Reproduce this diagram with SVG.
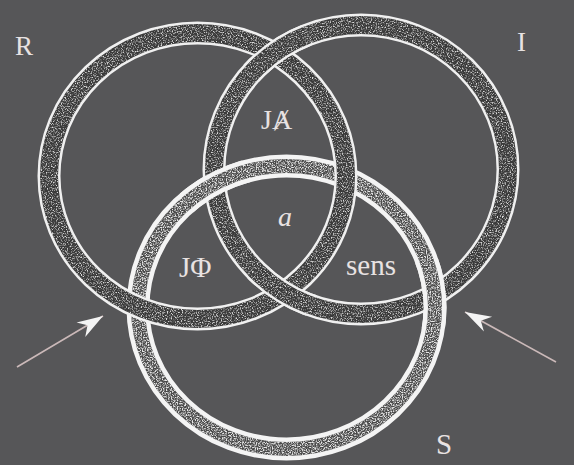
<svg xmlns="http://www.w3.org/2000/svg" xmlns:xlink="http://www.w3.org/1999/xlink" width="574" height="465" viewBox="0 0 574 465">
  <style>
    .edge { fill: none; stroke: #f0f0f0; stroke-width: 23; }
    .core { fill: none; stroke: #3a3a3a; stroke-width: 18; }
    .edgeS { fill: none; stroke: #f4f4f4; stroke-width: 23; }
    .coreS { fill: none; stroke: #4a4a4a; stroke-width: 14; }
    .lbl { font-family: "Liberation Serif", "DejaVu Serif", serif; fill: #e8e2e2; }
    .arrow { stroke: #cbb9b9; stroke-width: 1.6; fill: none; }
  </style>
  <defs>
    <filter id="speck" x="-5%" y="-5%" width="110%" height="110%" color-interpolation-filters="sRGB">
      <feTurbulence type="fractalNoise" baseFrequency="0.8" numOctaves="2" seed="7" result="n"/>
      <feColorMatrix in="n" type="matrix" values="0 0 0 0 0.85  0 0 0 0 0.85  0 0 0 0 0.85  3.5 0 0 0 -1.65" result="w"/>
      <feComposite in="w" in2="SourceGraphic" operator="in" result="wi"/>
      <feMerge><feMergeNode in="SourceGraphic"/><feMergeNode in="wi"/></feMerge>
    </filter>
    <filter id="speckS" x="-5%" y="-5%" width="110%" height="110%" color-interpolation-filters="sRGB">
      <feTurbulence type="fractalNoise" baseFrequency="0.8" numOctaves="2" seed="11" result="n"/>
      <feColorMatrix in="n" type="matrix" values="0 0 0 0 0.9  0 0 0 0 0.9  0 0 0 0 0.9  3.5 0 0 0 -1.45" result="w"/>
      <feComposite in="w" in2="SourceGraphic" operator="in" result="wi"/>
      <feMerge><feMergeNode in="SourceGraphic"/><feMergeNode in="wi"/></feMerge>
    </filter>
    <ellipse id="eR" cx="197.5" cy="176" rx="148.5" ry="143"/>
    <ellipse id="eI" cx="361" cy="169.5" rx="147" ry="144.5"/>
    <ellipse id="eS" cx="286.5" cy="307.5" rx="148.5" ry="141.5"/>
    <g id="shapeR"><use xlink:href="#eR" class="edge"/><use xlink:href="#eR" class="core" filter="url(#speck)"/></g>
    <g id="shapeI"><use xlink:href="#eI" class="edge"/><use xlink:href="#eI" class="core" filter="url(#speck)"/></g>
    <g id="shapeS"><use xlink:href="#eS" class="edgeS"/><use xlink:href="#eS" class="coreS" filter="url(#speckS)"/></g>
    <clipPath id="cRI"><circle cx="276" cy="50" r="36"/><circle cx="281" cy="290" r="36"/></clipPath>
    <clipPath id="cSI"><circle cx="214" cy="183" r="36"/><circle cx="434" cy="294" r="36"/></clipPath>
    <marker id="head" markerUnits="userSpaceOnUse" viewBox="-28 -11 30 22" markerWidth="30" markerHeight="22" refX="0" refY="0" orient="auto">
      <path d="M0,0 L-26,-8 L-18,0 L-26,9 Z" fill="#f4f4f4"/>
    </marker>
  </defs>

  <rect width="574" height="465" fill="#565658"/>

  <g id="ring-S"><use xlink:href="#shapeS"/></g>
  <g id="ring-I"><use xlink:href="#shapeI"/></g>
  <g id="ring-R"><use xlink:href="#shapeR"/></g>
  <g id="crossings">
    <use xlink:href="#shapeI" clip-path="url(#cRI)"/>
    <use xlink:href="#shapeS" clip-path="url(#cSI)"/>
  </g>

  <g id="connectors">
    <line class="arrow" x1="17" y1="367" x2="103" y2="316" marker-end="url(#head)"/>
    <line class="arrow" x1="556" y1="362" x2="465" y2="312" marker-end="url(#head)"/>
  </g>

  <g id="label-R"><text class="lbl" x="15" y="55" font-size="27">R</text></g>
  <g id="label-I"><text class="lbl" x="517" y="51" font-size="27">I</text></g>
  <g id="label-S"><text class="lbl" x="436" y="454" font-size="29">S</text></g>
  <g id="label-JA"><text class="lbl" x="261" y="129" font-size="28">JȺ</text></g>
  <g id="label-a"><text class="lbl" x="278" y="226" font-size="28" font-style="italic">a</text></g>
  <g id="label-JPhi"><text class="lbl" x="179" y="277" font-size="29">JΦ</text></g>
  <g id="label-sens"><text class="lbl" x="346" y="275" font-size="29">sens</text></g>
</svg>
